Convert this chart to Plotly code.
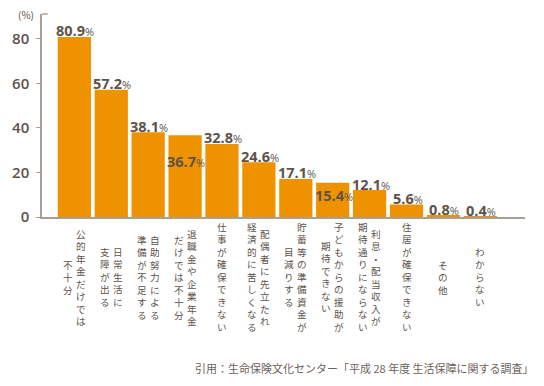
import plotly.graph_objects as go

categories = [
    ["公的年金だけでは", "不十分"],
    ["日常生活に", "支障が出る"],
    ["自助努力による", "準備が不足する"],
    ["退職金や企業年金", "だけでは不十分"],
    ["仕事が確保できない"],
    ["配偶者に先立たれ", "経済的に苦しくなる"],
    ["貯蓄等の準備資金が", "目減りする"],
    ["子どもからの援助が", "期待できない"],
    ["利息・配当収入が", "期待通りにならない"],
    ["住居が確保できない"],
    ["その他"],
    ["わからない"],
]
values = [80.9, 57.2, 38.1, 36.7, 32.8, 24.6, 17.1, 15.4, 12.1, 5.6, 0.8, 0.4]
label_shift = [6, 6, 6, -26, 6, 6, 6, -13, 6, 6, 6, 6]
y_ticks = [0, 20, 40, 60, 80]
source = "引用：生命保険文化センター「平成 28 年度 生活保障に関する調査」"

TXT = "#5e524a"
BAR = "#ef9200"
AXIS = "#a79f98"

x = list(range(len(values)))
fig = go.Figure(go.Bar(x=x, y=values, marker=dict(color=BAR, line=dict(width=0)),
                       width=0.9, hoverinfo="skip"))

ann = []
for i, v in enumerate(values):
    ann.append(dict(x=i, y=v, xref="x", yref="y", showarrow=False, yanchor="middle",
                    yshift=label_shift[i], xshift=1,
                    text=f"<b>{v}</b><span style='font-size:11px'>%</span>",
                    font=dict(family="Open Sans", size=14.5, color=TXT)))

center_off = 60
for i, cols in enumerate(categories):
    ncol = len(cols)
    for c, col in enumerate(cols):
        xs = 0 if ncol == 1 else (6.5 if c == 0 else -6.5)
        ann.append(dict(x=i, y=0, xref="x", yref="paper", showarrow=False,
                        xanchor="center", yanchor="middle", xshift=xs,
                        yshift=-center_off, borderpad=0,
                        text="<br>".join(col),
                        font=dict(family="Noto Sans CJK JP", size=9.6, color=TXT)))

ann.append(dict(x=0, y=1, xref="paper", yref="paper", showarrow=False,
                xanchor="right", yanchor="middle", xshift=-6, yshift=0,
                text="(%)", font=dict(family="Noto Sans CJK JP", size=10, color=TXT)))
ann.append(dict(x=1, y=-151 / 203, xref="paper", yref="paper", showarrow=False,
                xanchor="right", yanchor="middle", xshift=11,
                text=source, font=dict(family="Noto Sans CJK JP", size=11, color="#6b625c")))

fig.update_layout(
    width=544, height=386,
    margin=dict(l=40, r=19, t=14, b=169),
    paper_bgcolor="white", plot_bgcolor="white",
    showlegend=False,
    bargap=0.1,
    annotations=ann,
    xaxis=dict(range=[-0.877, 12.21], showticklabels=False, showgrid=False,
               zeroline=False, showline=True, linecolor=AXIS, linewidth=1.5,
               ticks="", fixedrange=True),
    yaxis=dict(range=[0, 91.2], tickvals=y_ticks, showgrid=False, zeroline=False,
               showline=True, linecolor=AXIS, linewidth=1.5, ticks="outside",
               ticklen=4, tickcolor=AXIS, ticklabelstandoff=4, fixedrange=True,
               tickfont=dict(family="Open Sans", size=15, color=TXT, weight=600)),
)
fig.add_shape(type="line", xref="paper", yref="paper", x0=0, x1=0.012, y0=1, y1=1,
              line=dict(color=AXIS, width=1.5))

fig.write_html("out.html", config={"displayModeBar": False},
               post_script="document.body.style.margin='0px';")
